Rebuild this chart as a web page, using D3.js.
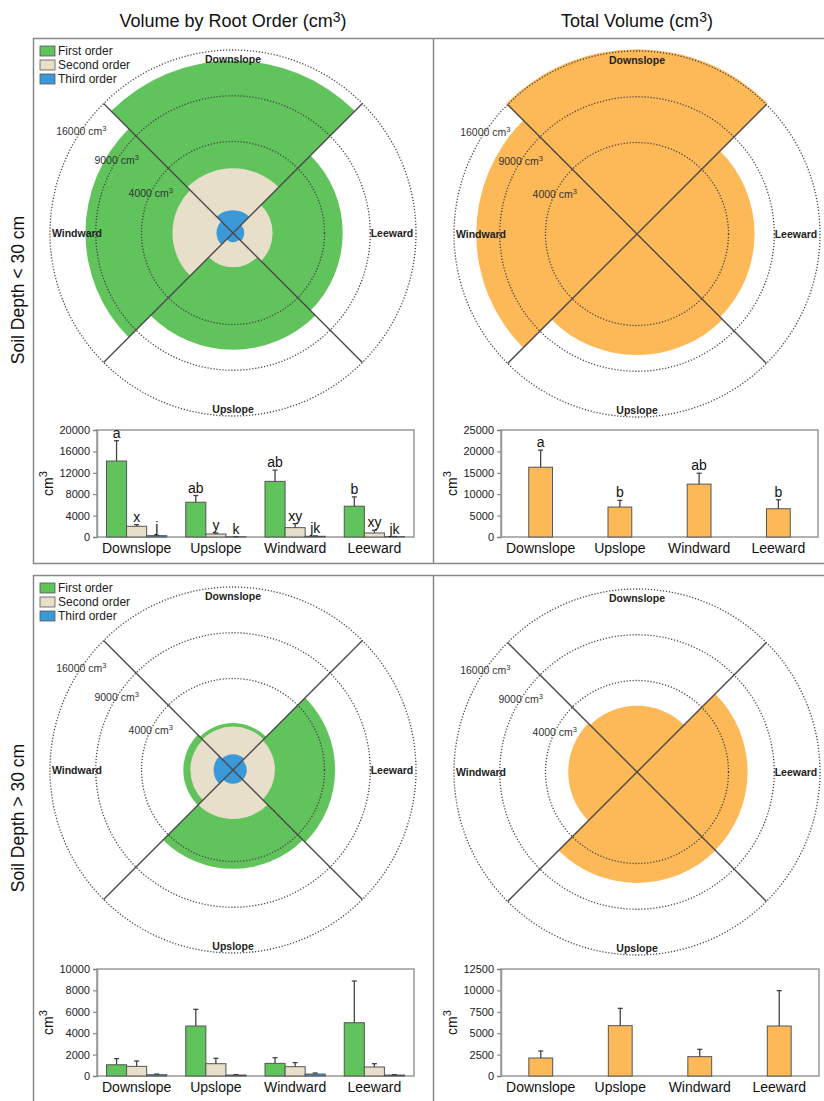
<!DOCTYPE html>
<html><head><meta charset="utf-8">
<script src="https://cdn.jsdelivr.net/npm/d3@7"></script>
<style>
body{margin:0;background:#fff;}
svg{display:block;font-family:"Liberation Sans",Arial,sans-serif;}
</style></head>
<body>
<svg id="chart" width="824" height="1101"></svg>
<script>
// ---------------- DATA ----------------
const categories = ["Downslope", "Upslope", "Windward", "Leeward"];
const orders = ["First order", "Second order", "Third order"];
const ringValues = [4000, 9000, 16000];

// Soil depth < 30 cm
const shallowFirst = [14200, 6500, 10400, 5750];
const shallowFirstSE = [3800, 1250, 2100, 1750];
const shallowSecond = [2000, 560, 1750, 750];
const shallowSecondSE = [300, 190, 750, 500];
const shallowThird = [250, 40, 130, 60];
const shallowThirdSE = [100, 20, 80, 30];
const shallowTotal = [16300, 7000, 12350, 6600];
const shallowTotalSE = [4000, 1550, 2550, 2100];
const shallowFirstSig = ["a", "ab", "ab", "b"];
const shallowSecondSig = ["x", "y", "xy", "xy"];
const shallowThirdSig = ["j", "k", "jk", "jk"];
const shallowTotalSig = ["a", "b", "ab", "b"];

// Soil depth > 30 cm
const deepFirst = [1050, 4670, 1180, 4980];
const deepFirstSE = [570, 1560, 530, 3900];
const deepSecond = [900, 1150, 870, 840];
const deepSecondSE = [500, 500, 380, 310];
const deepThird = [120, 90, 180, 90];
const deepThirdSE = [60, 40, 100, 30];
const deepTotal = [2100, 5880, 2260, 5840];
const deepTotalSE = [820, 2020, 855, 4130];

const shallowTicks = [0, 4000, 8000, 12000, 16000, 20000];
const shallowTotalTicks = [0, 5000, 10000, 15000, 20000, 25000];
const deepTicks = [0, 2000, 4000, 6000, 8000, 10000];
const deepTotalTicks = [0, 2500, 5000, 7500, 10000, 12500];

// ---------------- STYLE ----------------
const C = {green: "#60c35b", beige: "#e8dfcb", blue: "#3c99d8", orange: "#fdb858",
  frame: "#8a8a8a", line: "#4a4a4a", barStroke: "#555"};
const orderColors = [C.green, C.beige, C.blue];

const svg = d3.select("#chart");

// Titles
function supText(sel, main, sup, after, size) {
  sel.append("tspan").text(main);
  sel.append("tspan").text(sup).attr("font-size", size).attr("dy", -size * 0.35);
  if (after) sel.append("tspan").text(after).attr("dy", size * 0.35);
}
supText(svg.append("text").attr("x", 233).attr("y", 27).attr("text-anchor", "middle")
  .attr("font-size", 18).attr("fill", "#111"), "Volume by Root Order (cm", "3", ")", 14);
supText(svg.append("text").attr("x", 637).attr("y", 27).attr("text-anchor", "middle")
  .attr("font-size", 18).attr("fill", "#111"), "Total Volume (cm", "3", ")", 14);

// Panel frames
[[38.5, 525], [575.5, 600]].forEach(([y, h]) => {
  svg.append("rect").attr("x", 33.5).attr("y", y).attr("width", 820).attr("height", h)
    .attr("fill", "none").attr("stroke", C.frame).attr("stroke-width", 1.5);
  svg.append("line").attr("x1", 433.5).attr("x2", 433.5).attr("y1", y).attr("y2", y + h)
    .attr("stroke", C.frame).attr("stroke-width", 1.5);
});

// Row labels
[["Soil Depth < 30 cm", 290], ["Soil Depth > 30 cm", 818]].forEach(([t, y]) => {
  svg.append("text").attr("transform", `translate(24,${y}) rotate(-90)`)
    .attr("text-anchor", "middle").attr("font-size", 17.5).attr("fill", "#111").text(t);
});

// ---------------- POLAR ----------------
const dirAngle = {Downslope: 0, Leeward: Math.PI / 2, Upslope: Math.PI, Windward: 3 * Math.PI / 2};
const ringLabelAngle = {4000: 26, 9000: 32, 16000: 34};

function polar(cx, cy, layers) {
  const g = svg.append("g").attr("transform", `translate(${cx},${cy})`);
  const r = d3.scaleSqrt().domain([0, 16000]).range([0, 183]);
  const arc = d3.arc().innerRadius(0);
  layers.forEach(layer => {
    g.selectAll(null).data(categories.map((c, i) => ({c, v: layer.values[i]})))
      .join("path")
      .attr("d", d => arc({outerRadius: r(d.v), startAngle: dirAngle[d.c] - Math.PI / 4,
        endAngle: dirAngle[d.c] + Math.PI / 4}))
      .attr("fill", layer.color);
  });
  g.selectAll(null).data(ringValues).join("circle")
    .attr("r", d => r(d)).attr("fill", "none").attr("stroke", "#444")
    .attr("stroke-width", 1.3).attr("stroke-dasharray", "1.2,1.8");
  const R = r(16000);
  [1, 3, 5, 7].forEach(k => {
    const a = k * Math.PI / 4;
    g.append("line").attr("x1", 0).attr("y1", 0)
      .attr("x2", R * Math.sin(a)).attr("y2", -R * Math.cos(a))
      .attr("stroke", C.line).attr("stroke-width", 1.4);
  });
  const lp = {Downslope: [0, -174], Upslope: [0, 176], Windward: [-156, 0], Leeward: [159, 0]};
  categories.forEach(c => {
    g.append("text").attr("x", lp[c][0]).attr("y", lp[c][1]).attr("text-anchor", "middle")
      .attr("dominant-baseline", "central").attr("font-size", 10.5).attr("font-weight", "bold")
      .attr("fill", "#222").text(c);
  });
  ringValues.forEach(v => {
    const t = ringLabelAngle[v] * Math.PI / 180;
    const t2 = g.append("text").attr("x", -r(v) * Math.cos(t)).attr("y", -r(v) * Math.sin(t) + 4)
      .attr("text-anchor", "middle").attr("font-size", 10.5).attr("fill", "#333");
    t2.append("tspan").text(v + " cm");
    t2.append("tspan").text("3").attr("font-size", 7.5).attr("dy", -4);
  });
}

function legend(x, y) {
  const g = svg.append("g").attr("transform", `translate(${x},${y})`);
  orders.forEach((o, i) => {
    g.append("rect").attr("x", 0).attr("y", i * 14 - 5).attr("width", 15).attr("height", 10)
      .attr("fill", orderColors[i]).attr("stroke", "#555").attr("stroke-width", 0.8);
    g.append("text").attr("x", 18).attr("y", i * 14).attr("dominant-baseline", "central")
      .attr("font-size", 12).attr("fill", "#222").text(o);
  });
}

polar(233, 233, [{values: shallowFirst, color: C.green}, {values: shallowSecond, color: C.beige},
  {values: shallowThird, color: C.blue}]);
polar(637, 234, [{values: shallowTotal, color: C.orange}]);
polar(233, 770, [{values: deepFirst, color: C.green}, {values: deepSecond, color: C.beige},
  {values: deepThird, color: C.blue}]);
polar(637, 772, [{values: deepTotal, color: C.orange}]);
legend(40, 51);
legend(40, 588);

// ---------------- BARS ----------------
function bars(x0, x1, y0, y1, ticks, series, groupPad) {
  const g = svg.append("g");
  const y = d3.scaleLinear().domain([0, d3.max(ticks)]).range([y1, y0]);
  const xb = d3.scaleBand().domain(categories).range([x0, x1])
    .paddingInner(groupPad[0]).paddingOuter(groupPad[1]);
  const xi = d3.scaleBand().domain(d3.range(series.length)).range([0, xb.bandwidth()]);
  g.append("rect").attr("x", x0).attr("y", y0).attr("width", x1 - x0).attr("height", y1 - y0)
    .attr("fill", "none").attr("stroke", "#999").attr("stroke-width", 1.5);
  const ax = g.append("g").attr("transform", `translate(${x0},0)`)
    .call(d3.axisLeft(y).tickValues(ticks).tickSize(4).tickFormat(d3.format("d")));
  ax.select(".domain").attr("stroke", "#999").attr("stroke-width", 1.5);
  ax.selectAll(".tick line").attr("stroke", "#777");
  ax.selectAll(".tick text").attr("font-size", 11).attr("fill", "#222")
    .attr("font-family", "Liberation Sans, Arial, sans-serif");
  series.forEach((s, si) => {
    categories.forEach((c, i) => {
      const bx = xb(c) + xi(si), bw = xi.bandwidth();
      g.append("rect").attr("x", bx).attr("y", y(s.values[i])).attr("width", bw)
        .attr("height", y(0) - y(s.values[i])).attr("fill", s.color)
        .attr("stroke", C.barStroke).attr("stroke-width", 1);
      const top = y(s.values[i] + s.se[i]), mx = bx + bw / 2;
      g.append("line").attr("x1", mx).attr("x2", mx).attr("y1", y(s.values[i])).attr("y2", top)
        .attr("stroke", "#444").attr("stroke-width", 1.3);
      g.append("line").attr("x1", mx - 2.5).attr("x2", mx + 2.5).attr("y1", top).attr("y2", top)
        .attr("stroke", "#444").attr("stroke-width", 1.3);
      if (s.sig) {
        g.append("text").attr("x", mx).attr("y", top - 3).attr("text-anchor", "middle")
          .attr("font-size", 14).attr("fill", "#111").text(s.sig[i]);
      }
    });
  });
  categories.forEach(c => {
    g.append("text").attr("x", xb(c) + xb.bandwidth() / 2).attr("y", y1 + 16)
      .attr("text-anchor", "middle").attr("font-size", 14).attr("fill", "#111").text(c);
  });
  const lab = g.append("text").attr("transform", `translate(${x0 - 44},${(y0 + y1) / 2}) rotate(-90)`)
    .attr("text-anchor", "middle").attr("font-size", 14).attr("fill", "#111");
  lab.append("tspan").text("cm");
  lab.append("tspan").text("3").attr("font-size", 11).attr("dy", -6);
}

bars(97, 414, 430, 537, shallowTicks, [
  {values: shallowFirst, se: shallowFirstSE, sig: shallowFirstSig, color: C.green},
  {values: shallowSecond, se: shallowSecondSE, sig: shallowSecondSig, color: C.beige},
  {values: shallowThird, se: shallowThirdSE, sig: shallowThirdSig, color: C.blue}], [0.24, 0.12]);
bars(501, 818, 430, 537, shallowTotalTicks, [
  {values: shallowTotal, se: shallowTotalSE, sig: shallowTotalSig, color: C.orange}], [0.7, 0.35]);
bars(97, 414, 969, 1076, deepTicks, [
  {values: deepFirst, se: deepFirstSE, color: C.green},
  {values: deepSecond, se: deepSecondSE, color: C.beige},
  {values: deepThird, se: deepThirdSE, color: C.blue}], [0.24, 0.12]);
bars(501, 819, 969, 1076, deepTotalTicks, [
  {values: deepTotal, se: deepTotalSE, color: C.orange}], [0.7, 0.35]);
</script>
</body></html>
